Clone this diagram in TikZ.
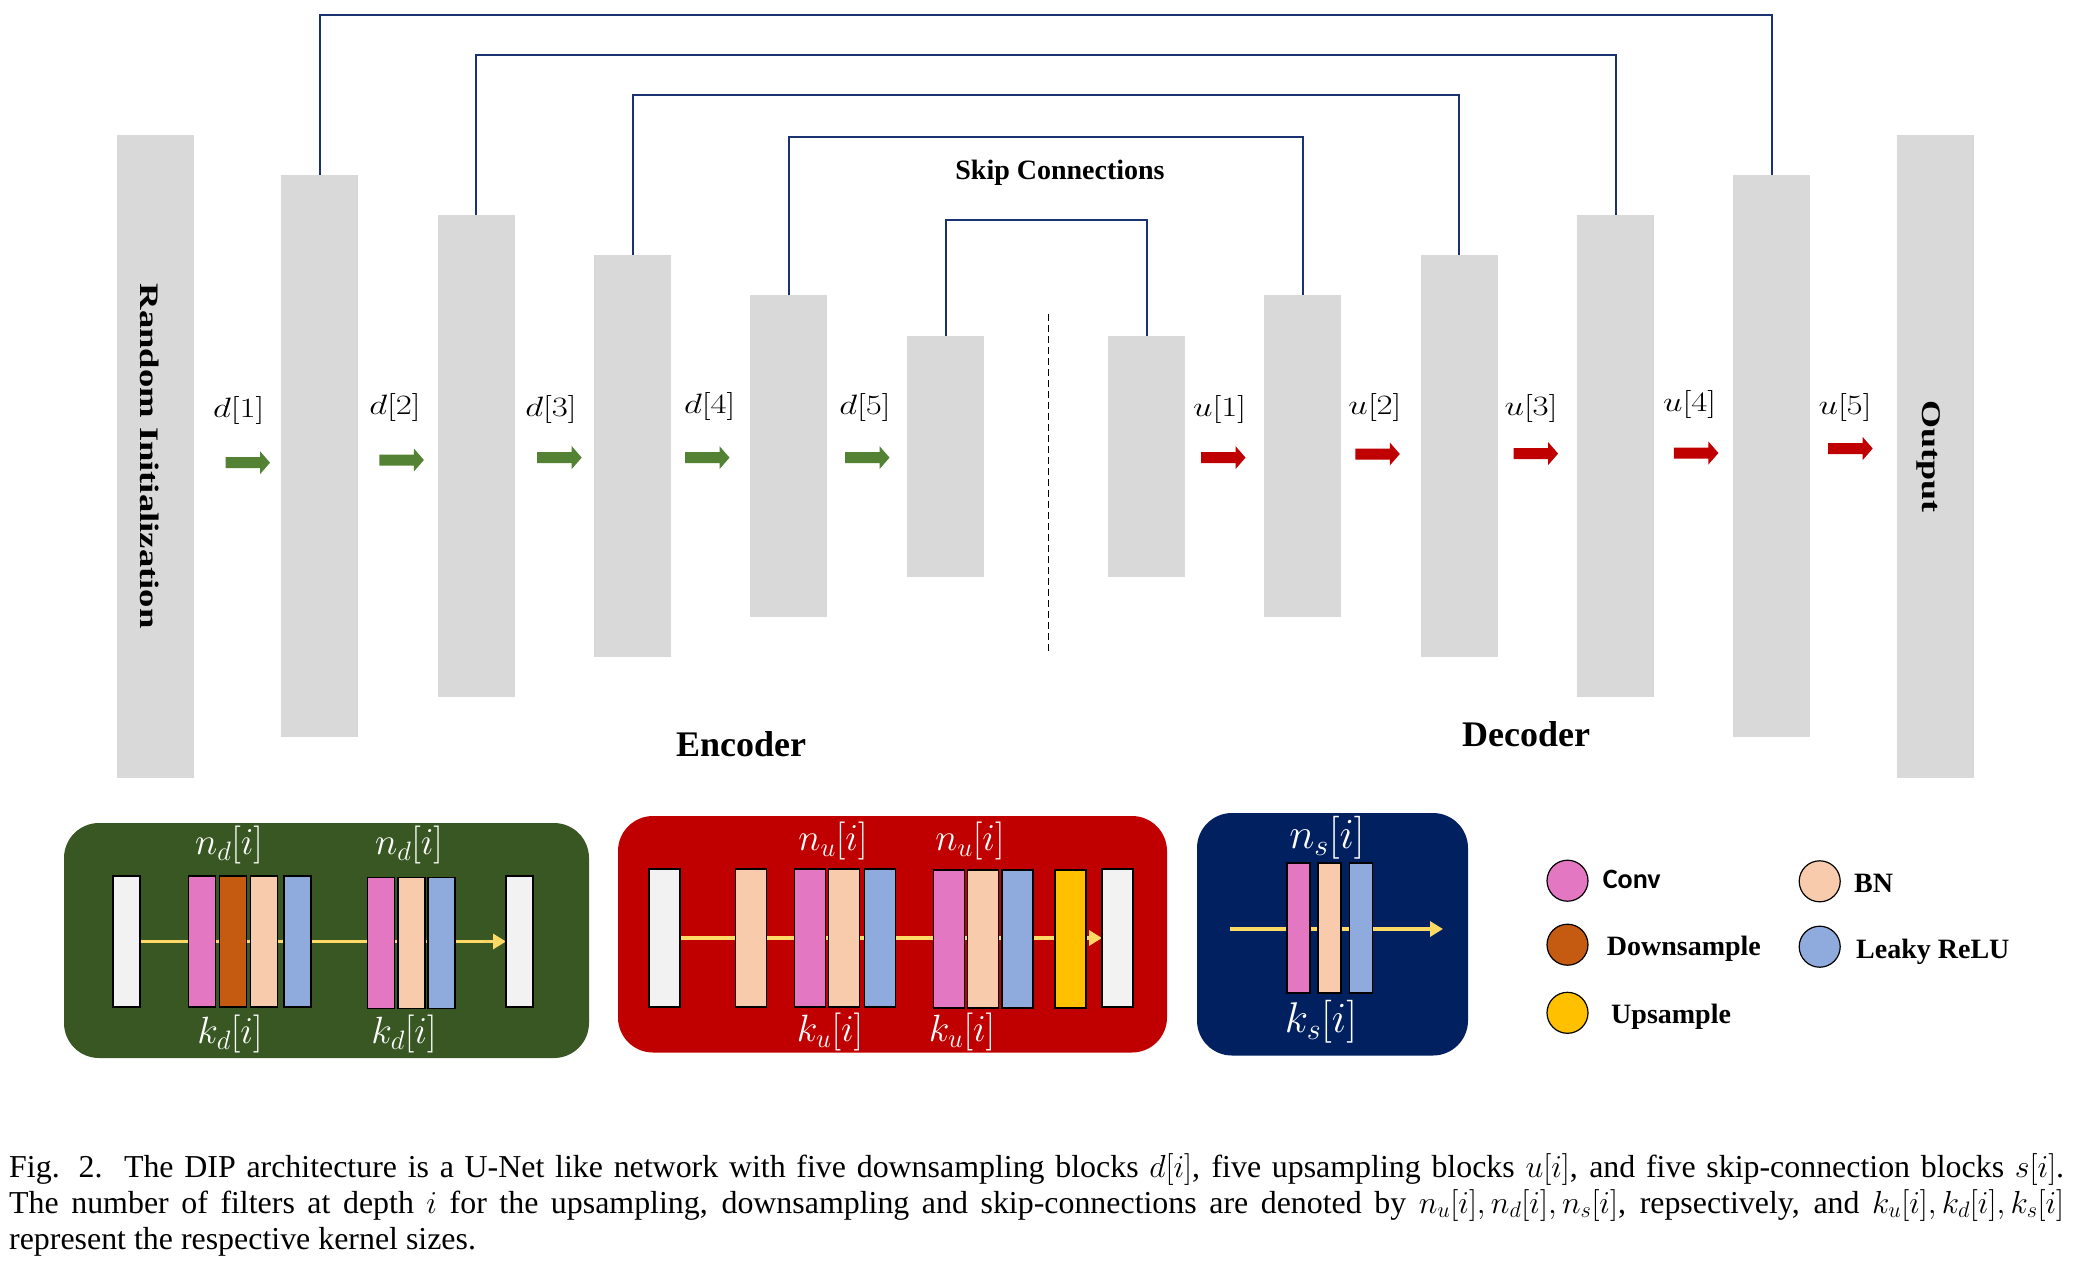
\RequirePackage{fix-cm}
\documentclass[tikz,border=0pt]{standalone}
\usepackage[no-math]{fontspec}
\setmainfont{Liberation Serif}
\newfontfamily\calfont{Carlito}
\usepackage{graphicx}
\usetikzlibrary{arrows.meta}
\definecolor{barg}{HTML}{D9D9D9}
\definecolor{skipc}{HTML}{1A3370}
\definecolor{agreen}{HTML}{548235}
\definecolor{ared}{HTML}{C00000}
\definecolor{cpink}{HTML}{E377C2}
\definecolor{cbrown}{HTML}{C55A11}
\definecolor{cpeach}{HTML}{F8CBAD}
\definecolor{cblue}{HTML}{8FAADC}
\definecolor{cyellow}{HTML}{FFC000}
\definecolor{cwhite}{HTML}{F2F2F2}
\definecolor{arrowy}{HTML}{FFD966}
\definecolor{pgreen}{HTML}{385723}
\definecolor{pred}{HTML}{C00000}
\definecolor{pblue}{HTML}{002060}
\pgfdeclarelayer{bg}
\pgfdeclarelayer{mid}
\pgfsetlayers{bg,mid,main}
\newcommand{\blockarr}[3]{\fill[#3] (#1,#2-5.5) -- ++(34.5,0) -- ++(0,-6) -- ++(10,11.5) -- ++(-10,11.5) -- ++(0,-6) -- ++(-34.5,0) -- cycle;}
\newcommand{\wlab}[1]{\scalebox{1.25}[1]{$#1$}}
\begin{document}
\begin{tikzpicture}[x=1pt,y=-1pt,
  gbar/.style={fill=barg, inner sep=0, outer sep=0, minimum width=77pt},
  skipline/.style={draw=skipc, line width=2pt},
  mlbl/.style={font=\fontsize{28}{30}\selectfont, inner sep=0},
  ttl/.style={font=\bfseries\fontsize{36}{40}\selectfont, inner sep=0, anchor=base},
  pbar/.style={draw=black, line width=1.2pt, inner sep=0, outer sep=0},
  gpb/.style={pbar, minimum width=27pt, minimum height=131pt},
  rpb/.style={pbar, minimum width=31pt, minimum height=138pt},
  bpb/.style={pbar, minimum width=23pt, minimum height=130pt},
  panel/.style={rounded corners=35pt, inner sep=0, outer sep=0},
  wlbl/.style={text=white, font=\fontsize{38}{40}\selectfont, inner sep=0},
  blbl/.style={text=white, font=\fontsize{43}{45}\selectfont, inner sep=0},
  yarr/.style={draw=arrowy, line width=3.5pt, -{Triangle[length=13pt,width=15pt]}},
  leg/.style={circle, draw=black, line width=1.2pt, minimum size=41pt, inner sep=0},
  legt/.style={font=\bfseries\fontsize{28}{30}\selectfont, inner sep=0, anchor=base west},
  capt/.style={font=\fontsize{31.9}{35.7}\selectfont, inner sep=0, anchor=base west}]
\useasboundingbox (0,0) rectangle (2073,1262);

% ---------- main bars ----------
\node[gbar, minimum height=643.3pt] (ri) at (155,456.4) {};
\node[gbar, minimum height=562.5pt] (e1) at (319.5,455.8) {};
\node[gbar, minimum height=482.6pt] (e2) at (476,456.1) {};
\node[gbar, minimum height=402pt] (e3) at (632.5,456) {};
\node[gbar, minimum height=321.4pt] (e4) at (788.5,456.1) {};
\node[gbar, minimum height=240.8pt] (e5) at (945.5,456.1) {};
\node[gbar, minimum height=240.8pt] (d1) at (1146.5,456.1) {};
\node[gbar, minimum height=321.4pt] (d2) at (1302.5,456.1) {};
\node[gbar, minimum height=402pt] (d3) at (1459,456) {};
\node[gbar, minimum height=482.6pt] (d4) at (1615.5,456.1) {};
\node[gbar, minimum height=562.5pt] (d5) at (1771.5,455.8) {};
\node[gbar, minimum height=643.3pt] (out) at (1935,456.4) {};

\node[font=\bfseries\fontsize{36.6}{40}\selectfont, inner sep=0, rotate=-90] (ritxt) at (150,456) {\scalebox{1}[0.73]{Random Initialization}};
\node[font=\bfseries\fontsize{36}{40}\selectfont, inner sep=0, rotate=-90] (outtxt) at (1929,456.5) {\scalebox{1}[0.75]{Output}};

% ---------- skip connections ----------
\coordinate (s1) at (0,14.8);
\coordinate (s2) at (0,55);
\coordinate (s3) at (0,95.4);
\coordinate (s4) at (0,136.7);
\coordinate (s5) at (0,220.4);
\draw[skipline] (e1.north) -- (e1.north |- s1) -- (d5.north |- s1) -- (d5.north);
\draw[skipline] (e2.north) -- (e2.north |- s2) -- (d4.north |- s2) -- (d4.north);
\draw[skipline] (e3.north) -- (e3.north |- s3) -- (d3.north |- s3) -- (d3.north);
\draw[skipline] (e4.north) -- (e4.north |- s4) -- (d2.north |- s4) -- (d2.north);
\draw[skipline] (e5.north) -- (e5.north |- s5) -- (d1.north |- s5) -- (d1.north);
\node[font=\bfseries\fontsize{28}{30}\selectfont, inner sep=0, anchor=base] (skiptxt) at (1060,179.3) {Skip Connections};

% dashed divider
\coordinate (dv1) at (1048.6,314);
\coordinate (dv2) at (1048.6,650.5);
\draw[black, line width=1.3pt, dash pattern=on 7pt off 4pt] (dv1) -- (dv2);

% ---------- labels ----------
\node[mlbl] (ld1) at (238.8,410.7) {\wlab{d[1]}};
\node[mlbl] (ld2) at (395,407.6) {\wlab{d[2]}};
\node[mlbl] (ld3) at (551,409) {\wlab{d[3]}};
\node[mlbl] (ld4) at (709.7,406) {\wlab{d[4]}};
\node[mlbl] (ld5) at (865,407) {\wlab{d[5]}};
\node[mlbl] (lu1) at (1219.7,409.5) {\wlab{u[1]}};
\node[mlbl] (lu2) at (1375,407) {\wlab{u[2]}};
\node[mlbl] (lu3) at (1531,408) {\wlab{u[3]}};
\node[mlbl] (lu4) at (1689.7,404) {\wlab{u[4]}};
\node[mlbl] (lu5) at (1845,407) {\wlab{u[5]}};

% ---------- block arrows ----------
\blockarr{225.5}{462.7}{agreen}
\blockarr{379.4}{460}{agreen}
\blockarr{537.2}{457.6}{agreen}
\blockarr{685}{457.6}{agreen}
\blockarr{845}{457.6}{agreen}
\blockarr{1201}{457.6}{ared}
\blockarr{1355.3}{454}{ared}
\blockarr{1513.6}{453.6}{ared}
\blockarr{1673.9}{453}{ared}
\blockarr{1828.2}{448.5}{ared}

\node[ttl] (enc) at (741,756) {Encoder};
\node[ttl] (dec) at (1526,746) {Decoder};

% ---------- bottom panels ----------
\begin{pgfonlayer}{bg}
\node[panel, fill=pgreen, minimum width=525pt, minimum height=235pt] (gpan) at (326.5,940.5) {};
\node[panel, fill=pred, minimum width=549pt, minimum height=236.5pt] (rpan) at (892.5,934.25) {};
\node[panel, fill=pblue, minimum width=271pt, minimum height=242.5pt] (bpan) at (1332.5,934.25) {};
\end{pgfonlayer}

% green (down) block
\node[gpb, fill=cwhite] (gw1) at (126.5,941.5) {};
\node[gpb, fill=cpink] (gc1) at (202,941.5) {};
\node[gpb, fill=cbrown] (gd1) at (233,941.5) {};
\node[gpb, fill=cpeach] (gb1) at (264,941.5) {};
\node[gpb, fill=cblue] (gl1) at (297.5,941.5) {};
\node[gpb, fill=cpink] (gc2) at (381,943) {};
\node[gpb, fill=cpeach] (gb2) at (411.5,943) {};
\node[gpb, fill=cblue] (gl2) at (441.5,943) {};
\node[gpb, fill=cwhite] (gw2) at (519.5,941.5) {};
\begin{pgfonlayer}{mid}
\draw[yarr] (gw1.east) -- (gw2.west);
\end{pgfonlayer}
\node[wlbl] (gn1) at (229,845) {$n_d[i]$};
\node[wlbl] (gn2) at (409,845) {$n_d[i]$};
\node[wlbl] (gk1) at (230,1034) {$k_d[i]$};
\node[wlbl] (gk2) at (404,1034) {$k_d[i]$};

% red (up) block
\node[rpb, fill=cwhite] (rw1) at (664.5,938) {};
\node[rpb, fill=cpeach] (rb0) at (751,938) {};
\node[rpb, fill=cpink] (rc1) at (810,938) {};
\node[rpb, fill=cpeach] (rb1) at (844,938) {};
\node[rpb, fill=cblue] (rl1) at (880,938) {};
\node[rpb, fill=cpink] (rc2) at (949,939) {};
\node[rpb, fill=cpeach] (rb2) at (983,939) {};
\node[rpb, fill=cblue] (rl2) at (1017.5,939) {};
\node[rpb, fill=cyellow] (ry) at (1070.5,939) {};
\node[rpb, fill=cwhite] (rw2) at (1117.5,938) {};
\begin{pgfonlayer}{mid}
\draw[yarr] (rw1.east) -- (rw2.west);
\end{pgfonlayer}
\node[wlbl] (rn1) at (833,841) {$n_u[i]$};
\node[wlbl] (rn2) at (970,841) {$n_u[i]$};
\node[wlbl] (rk1) at (830,1032) {$k_u[i]$};
\node[wlbl] (rk2) at (962,1032) {$k_u[i]$};

% blue (skip) block
\node[bpb, fill=cpink] (bc) at (1298.5,928) {};
\node[bpb, fill=cpeach] (bb) at (1329.5,928) {};
\node[bpb, fill=cblue] (bl) at (1361,928) {};
\coordinate (ba1) at (1230,929);
\coordinate (ba2) at (1443,929);
\begin{pgfonlayer}{mid}
\draw[yarr] (ba1) -- (ba2);
\end{pgfonlayer}
\node[blbl] (bn) at (1327,838) {$n_s[i]$};
\node[blbl] (bk) at (1321,1022) {$k_s[i]$};

% ---------- legend ----------
\node[leg, fill=cpink] (lconv) at (1567.5,880.7) {};
\node[legt, font=\calfont\bfseries\fontsize{28}{30}\selectfont] (tconv) at (1602.7,888.3) {Conv};
\node[leg, fill=cbrown] (ldown) at (1567.5,944.7) {};
\node[legt] (tdown) at (1606.7,955) {Downsample};
\node[leg, fill=cyellow] (lup) at (1567.5,1012.8) {};
\node[legt] (tup) at (1611,1023.3) {Upsample};
\node[leg, fill=cpeach] (lbn) at (1819.7,881.3) {};
\node[legt] (tbn) at (1854,892.7) {BN};
\node[leg, fill=cblue] (lrelu) at (1819.7,946.7) {};
\node[legt] (trelu) at (1856,958.3) {Leaky ReLU};

% ---------- caption ----------
\node[capt] (cap1) at (9,1177) {\makebox[2055pt][s]{Fig. 2.\ \ The DIP architecture is a U-Net like network with five downsampling blocks $d[i]$, five upsampling blocks $u[i]$, and five skip-connection blocks $s[i]$.}};
\node[capt] (cap2) at (9,1213) {\makebox[2055pt][s]{The number of filters at depth $i$ for the upsampling, downsampling and skip-connections are denoted by $n_u[i], n_d[i], n_s[i]$, repsectively, and $k_u[i], k_d[i], k_s[i]$}};
\node[capt] (cap3) at (9,1249) {represent the respective kernel sizes.};
\end{tikzpicture}
\end{document}
